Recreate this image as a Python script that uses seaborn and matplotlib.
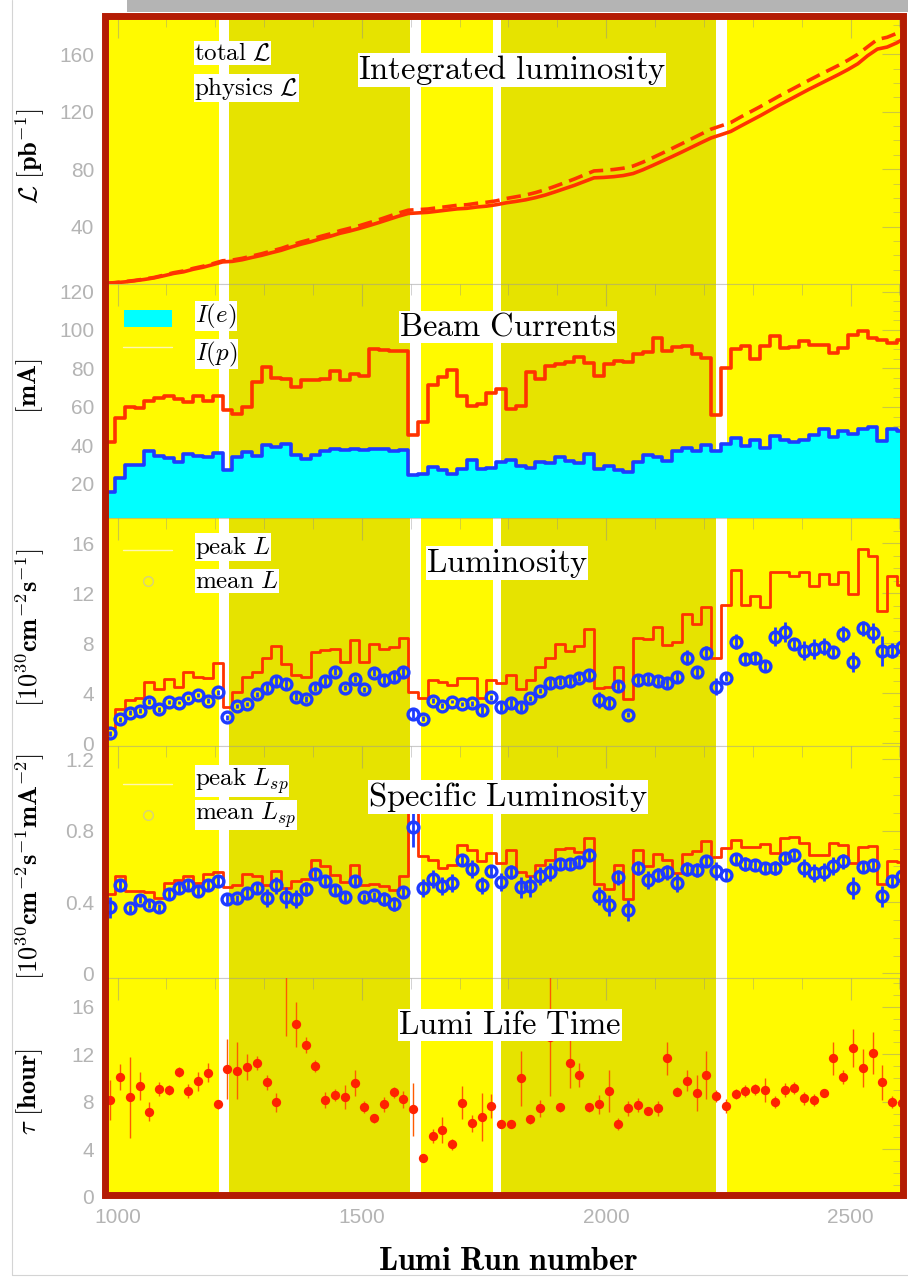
import numpy as np
import pandas as pd
import seaborn as sns
import matplotlib
matplotlib.use("Agg")
import matplotlib.pyplot as plt
from matplotlib.patches import Rectangle
from matplotlib.lines import Line2D
from matplotlib.ticker import MultipleLocator

# ---------------- data ----------------
run_edges = np.arange(975, 2616, 20)          # 82 bins of 20 runs
run_centers = run_edges[:-1] + 10

period_start = [975, 1228, 1621, 1785, 2247]
period_end = [1208, 1598, 1768, 2224, 2615]
period_dark = [False, True, False, True, False]

int_phys = [0.6, 1.0, 1.6, 2.4, 3.3, 4.4, 5.9, 7.5, 8.6, 10.4,
            11.8, 13.6, 15.5, 15.9, 17.0, 18.6, 20.1, 21.9, 23.6, 25.8,
            27.8, 29.5, 31.5, 33.3, 35.4, 37.0, 38.8, 40.8, 42.9, 45.1,
            47.3, 49.2, 49.6, 50.0, 50.8, 51.6, 52.4, 52.8, 53.7, 54.3,
            55.3, 56.6, 57.6, 58.7, 60.2, 62.0, 64.2, 66.5, 68.8, 71.4,
            74.0, 74.3, 74.8, 75.6, 77.0, 79.6, 82.6, 85.7, 88.8, 92.0,
            95.3, 98.6, 101.8, 104.0, 106.3, 110.0, 113.6, 117.2, 121.0, 124.8,
            128.4, 132.0, 135.6, 139.0, 142.4, 145.8, 149.4, 153.4, 159.0, 163.6,
            165.0, 168.0, 172.0]
int_total = [0.6, 1.1, 1.8, 2.6, 3.6, 4.7, 6.3, 8.0, 9.2, 11.0,
             12.5, 14.3, 16.3, 16.8, 18.0, 19.6, 21.2, 23.1, 24.9, 27.2,
             29.3, 31.1, 33.2, 35.0, 37.2, 38.9, 40.7, 42.8, 44.9, 47.2,
             49.5, 51.5, 51.9, 52.3, 53.2, 54.0, 54.9, 55.3, 56.3, 57.0,
             58.0, 59.6, 60.8, 62.0, 63.7, 65.7, 68.1, 70.6, 73.2, 76.0,
             78.8, 79.2, 79.8, 80.7, 82.2, 84.9, 88.0, 91.2, 94.5, 97.8,
             101.2, 104.6, 107.9, 110.2, 112.5, 116.3, 119.9, 123.5, 127.3, 131.1,
             134.7, 138.3, 141.9, 145.4, 148.8, 152.2, 155.9, 160.0, 165.2, 170.3,
             171.8, 174.6, 178.8]

I_e = [15.9, 23.1, 30.0, 30.0, 36.9, 34.7, 33.5, 31.2, 35.7, 34.7,
       34.0, 36.1, 27.4, 34.0, 36.6, 34.7, 40.1, 39.0, 40.9, 34.9,
       33.0, 35.2, 36.9, 38.3, 37.8, 38.1, 37.8, 38.1, 38.1, 36.9,
       37.5, 24.5, 25.3, 28.8, 27.4, 25.3, 27.8, 32.3, 27.9, 28.3,
       31.2, 32.6, 29.5, 28.3, 31.4, 30.7, 33.8, 32.1, 30.9, 35.6,
       27.8, 29.5, 27.4, 26.2, 31.4, 34.9, 34.0, 31.7, 37.3, 38.7,
       36.9, 40.4, 36.9, 40.9, 43.9, 39.5, 43.0, 38.7, 45.1, 42.6,
       41.8, 43.0, 45.6, 48.5, 44.4, 47.3, 45.9, 48.5, 49.4, 42.1,
       48.7, 47.3]
I_p = [41.6, 54.3, 60.0, 59.4, 62.9, 64.6, 65.5, 64.1, 62.6, 65.5,
       62.9, 65.9, 58.2, 56.5, 60.0, 72.8, 80.6, 75.0, 74.5, 70.2,
       74.2, 73.8, 74.5, 78.5, 73.8, 77.1, 76.2, 90.1, 89.4, 88.9,
       88.9, 45.6, 52.0, 71.6, 75.4, 79.0, 65.5, 60.7, 61.7, 67.2,
       69.3, 58.9, 60.7, 78.0, 74.5, 81.1, 82.3, 83.2, 85.9, 82.8,
       75.9, 82.5, 83.7, 83.4, 87.7, 88.4, 95.8, 88.9, 91.1, 91.5,
       87.5, 85.4, 56.0, 80.2, 90.3, 91.8, 84.9, 91.5, 97.0, 90.6,
       91.1, 94.1, 92.0, 92.0, 88.0, 90.6, 97.2, 99.3, 95.8, 94.6,
       93.2, 94.6]

peak_L = [1.27, 2.77, 3.49, 3.62, 4.90, 4.34, 5.17, 4.55, 5.70, 5.35,
          5.27, 6.42, 2.95, 4.10, 5.35, 5.70, 6.87, 7.81, 6.37, 5.49,
          5.35, 7.35, 7.49, 7.57, 6.55, 8.29, 6.55, 7.99, 7.57, 7.75,
          8.47, 4.15, 3.67, 5.09, 4.90, 4.69, 5.27, 5.22, 3.67, 5.09,
          4.82, 5.49, 4.34, 5.09, 6.10, 6.82, 7.94, 7.41, 7.81, 9.14,
          4.47, 4.55, 6.10, 3.57, 8.42, 8.34, 9.27, 7.89, 8.15, 10.34,
          9.57, 10.87, 6.87, 11.03, 13.89, 11.03, 11.75, 10.87, 13.67, 13.67,
          13.35, 13.70, 12.55, 13.57, 12.77, 13.70, 11.94, 15.54, 14.95, 10.55,
          13.35, 12.69]
mean_L = [0.80, 1.94, 2.47, 2.61, 3.35, 2.74, 3.30, 3.27, 3.62, 3.89,
          3.41, 4.10, 2.10, 3.01, 3.14, 3.94, 4.42, 5.03, 4.74, 3.75,
          3.57, 4.47, 5.01, 5.75, 4.47, 5.17, 4.34, 5.67, 5.09, 5.35,
          5.70, 2.37, 1.97, 3.41, 3.01, 3.35, 3.14, 3.22, 2.69, 3.70,
          2.90, 3.22, 2.90, 3.62, 4.23, 4.82, 4.95, 5.01, 5.27, 5.49,
          3.49, 3.27, 4.61, 2.29, 5.09, 5.17, 5.01, 4.87, 5.35, 6.87,
          5.70, 7.27, 4.55, 5.27, 8.15, 6.74, 6.82, 6.23, 8.55, 8.90,
          7.97, 7.43, 7.54, 7.75, 7.35, 8.77, 6.50, 9.22, 8.82, 7.43,
          7.43, 7.70]
mean_L_err = [0.2, 0.2, 0.2, 0.2, 0.2, 0.2, 0.15, 0.15, 0.15, 0.15,
              0.2, 0.2, 0.2, 0.15, 0.15, 0.2, 0.3, 0.4, 0.5, 0.3,
              0.25, 0.3, 0.3, 0.25, 0.2, 0.25, 0.2, 0.3, 0.4, 0.5,
              0.45, 0.35, 0.2, 0.2, 0.2, 0.15, 0.15, 0.2, 0.3, 0.2,
              0.3, 0.3, 0.3, 0.2, 0.2, 0.3, 0.3, 0.3, 0.3, 0.3,
              0.65, 0.5, 0.35, 0.2, 0.3, 0.3, 0.35, 0.4, 0.4, 0.6,
              0.4, 0.5, 0.65, 0.3, 0.6, 0.4, 0.4, 0.4, 0.75, 0.8,
              0.4, 0.75, 0.8, 0.65, 0.4, 0.65, 0.8, 0.6, 0.8, 1.2,
              0.6, 0.4]

peak_Lsp = [0.445, 0.548, 0.463, 0.460, 0.456, 0.422, 0.506, 0.525, 0.548, 0.506,
            0.557, 0.568, 0.482, 0.497, 0.557, 0.544, 0.497, 0.572, 0.478, 0.516,
            0.531, 0.634, 0.604, 0.549, 0.510, 0.609, 0.497, 0.503, 0.491, 0.469,
            0.544, 0.983, 0.656, 0.637, 0.591, 0.609, 0.722, 0.694, 0.628, 0.675,
            0.619, 0.694, 0.568, 0.548, 0.606, 0.634, 0.699, 0.703, 0.680, 0.759,
            0.501, 0.475, 0.606, 0.419, 0.694, 0.600, 0.671, 0.634, 0.563, 0.669,
            0.684, 0.740, 0.650, 0.703, 0.746, 0.707, 0.707, 0.725, 0.675, 0.759,
            0.763, 0.731, 0.662, 0.662, 0.731, 0.718, 0.619, 0.707, 0.712, 0.501,
            0.628, 0.624]
mean_Lsp = [0.370, 0.497, 0.366, 0.413, 0.385, 0.370, 0.445, 0.478, 0.493, 0.460,
            0.493, 0.520, 0.418, 0.422, 0.450, 0.478, 0.422, 0.493, 0.426, 0.418,
            0.475, 0.557, 0.520, 0.469, 0.426, 0.516, 0.426, 0.437, 0.418, 0.389,
            0.456, 0.819, 0.478, 0.529, 0.488, 0.506, 0.637, 0.587, 0.493, 0.576,
            0.512, 0.568, 0.482, 0.488, 0.544, 0.568, 0.613, 0.613, 0.624, 0.666,
            0.432, 0.381, 0.538, 0.353, 0.591, 0.525, 0.553, 0.566, 0.506, 0.587,
            0.581, 0.628, 0.572, 0.549, 0.641, 0.613, 0.609, 0.591, 0.591, 0.647,
            0.666, 0.591, 0.563, 0.568, 0.600, 0.628, 0.478, 0.596, 0.606, 0.432,
            0.520, 0.544]
mean_Lsp_err = [0.06, 0.03, 0.02, 0.02, 0.02, 0.02, 0.03, 0.03, 0.03, 0.03,
                0.03, 0.03, 0.03, 0.02, 0.03, 0.03, 0.05, 0.05, 0.06, 0.05,
                0.04, 0.03, 0.03, 0.03, 0.03, 0.03, 0.02, 0.02, 0.04, 0.04,
                0.03, 0.11, 0.05, 0.05, 0.05, 0.05, 0.03, 0.05, 0.05, 0.03,
                0.05, 0.04, 0.06, 0.06, 0.05, 0.05, 0.03, 0.03, 0.03, 0.03,
                0.05, 0.06, 0.04, 0.06, 0.04, 0.05, 0.04, 0.04, 0.05, 0.04,
                0.04, 0.03, 0.05, 0.03, 0.03, 0.04, 0.03, 0.03, 0.04, 0.03,
                0.03, 0.05, 0.05, 0.05, 0.05, 0.04, 0.06, 0.03, 0.03, 0.06,
                0.03, 0.03]

lifetime = [8.13, 10.10, 8.36, 9.32, 7.15, 9.04, 8.98, 10.52, 8.90, 9.74,
            10.44, 7.77, 10.75, 10.61, 10.89, 11.28, 9.62, 7.94, 20.0, 14.54,
            12.77, 11.03, 8.14, 8.56, 8.42, 9.54, 7.52, 6.59, 7.77, 8.78,
            8.19, 7.35, 3.28, 5.10, 5.61, 4.40, 7.91, 6.17, 6.73, 7.66,
            6.11, 6.11, 9.96, 6.51, 7.43, 13.47, 7.52, 11.23, 10.24, 7.52,
            7.77, 8.90, 6.09, 7.43, 7.71, 7.21, 7.43, 11.65, 8.84, 9.77,
            8.75, 10.24, 8.50, 7.66, 8.64, 8.92, 9.04, 8.98, 7.94, 8.98,
            9.18, 8.28, 8.14, 8.75, 11.65, 10.10, 12.55, 10.80, 12.10, 9.63,
            7.94, 7.86]
lifetime_err = [1.7, 1.1, 3.4, 1.2, 0.8, 0.6, 0.4, 0.4, 0.6, 0.8,
                0.8, 0.4, 2.5, 2.4, 1.1, 0.6, 0.6, 0.8, 6.5, 1.9,
                0.7, 0.5, 0.7, 0.5, 1.0, 1.1, 0.5, 0.4, 0.6, 0.5,
                0.7, 2.2, 0.35, 0.6, 1.1, 0.5, 1.4, 0.7, 2.0, 1.0,
                0.2, 0.2, 2.3, 0.35, 0.7, 5.0, 0.35, 2.1, 1.0, 0.35,
                0.8, 1.8, 0.5, 0.6, 0.6, 0.35, 0.6, 1.4, 0.4, 0.9,
                1.5, 2.0, 0.5, 0.6, 0.4, 0.5, 0.45, 1.0, 0.5, 0.6,
                0.5, 0.55, 0.5, 0.35, 1.4, 0.6, 1.6, 1.6, 1.8, 1.5,
                0.5, 0.5]

panel_titles = ["Integrated\\ luminosity", "Beam\\ Currents", "Luminosity",
                "Specific\\ Luminosity", "Lumi\\ Life\\ Time"]
y_labels = [r"$\mathcal{L}\ \mathbf{[pb^{-1}]}$", r"$\mathbf{[mA]}$",
            r"$\mathbf{[10^{30}cm^{-2}s^{-1}]}$",
            r"$\mathbf{[10^{30}cm^{-2}s^{-1}mA^{-2}]}$",
            r"$\tau\ \mathbf{[hour]}$"]
x_label = r"$\mathbf{Lumi\ Run\ number}$"

# ---------------- style ----------------
sns.set_theme(style="white")
plt.rcParams["font.family"] = ["Liberation Sans", "DejaVu Sans"]
plt.rcParams["mathtext.fontset"] = "cm"

RED = "#FF3300"
BLUE = "#1E3CFF"
CYAN = "#00FFFF"
YEL1 = "#FFFA00"
YEL2 = "#E6E300"
FRAME = "#B41C04"
TICKC = "#B4B4B4"

W, H = 908, 1278
fig = plt.figure(figsize=(W / 100, H / 100), dpi=100)
fig.patch.set_facecolor("white")


def fx(x):
    return x / W


def fy(y):
    return 1 - y / H


def ftext(x, y, s, **kw):
    return fig.text(fx(x), fy(y), s, **kw)


X0, X1 = 105.3, 904.3
panel_px = [(16, 284.2), (284.2, 518), (518, 746), (746, 978), (978, 1196.7)]
ylims = [(0, 186.6), (2.3, 123.8), (-0.2, 18.02), (-0.026, 1.275), (0, 18.42)]
ymajor = [40, 20, 4, 0.4, 4]
yticks_list = [[40, 80, 120, 160], [20, 40, 60, 80, 100, 120], [0, 4, 8, 12, 16],
               [0, 0.4, 0.8, 1.2], [0, 4, 8, 12, 16]]
ytick_text = [None, None, None, ["0", "0.4", "0.8", "1.2"], None]

axes = []
for i, (top, bot) in enumerate(panel_px):
    ax = fig.add_axes([fx(X0), fy(bot), fx(X1) - fx(X0), (bot - top) / H])
    ax.set_facecolor("white")
    for s, e, d in zip(period_start, period_end, period_dark):
        ax.axvspan(s, e, color=YEL2 if d else YEL1, lw=0, zorder=0)
    axes.append(ax)

ax1, ax2, ax3, ax4, ax5 = axes
bin_list = [float(v) for v in run_edges]
df_bins = pd.DataFrame({"run": run_centers, "Ie": I_e, "Ip": I_p, "peakL": peak_L,
                        "peakLsp": peak_Lsp})

# Panel 1: integrated luminosity
df_int = pd.DataFrame({"run": run_edges, "phys": int_phys, "total": int_total})
sns.lineplot(data=df_int, x="run", y="total", ax=ax1, color=RED, lw=2.6,
             linestyle=(0, (4, 2)), estimator=None, sort=False, zorder=3)
sns.lineplot(data=df_int, x="run", y="phys", ax=ax1, color=RED, lw=2.6,
             estimator=None, sort=False, zorder=4)

# Panel 2: beam currents
sns.histplot(data=df_bins, x="run", weights="Ie", bins=bin_list, element="step", fill=True,
             color=CYAN, alpha=1, edgecolor=BLUE, linewidth=2.6, ax=ax2, zorder=2)
sns.histplot(data=df_bins, x="run", weights="Ip", bins=bin_list, element="step", fill=False,
             color=RED, linewidth=2.6, ax=ax2, zorder=3)
ax2.vlines(run_edges[0], 0, I_p[0], color=RED, lw=2.6, zorder=3)

# Panel 3: luminosity
sns.histplot(data=df_bins, x="run", weights="peakL", bins=bin_list, element="step", fill=False,
             color=RED, linewidth=2.0, ax=ax3, zorder=3)
ax3.vlines(run_edges[0], -1, peak_L[0], color=RED, lw=2.0, zorder=3)
ax3.errorbar(run_centers, mean_L, yerr=mean_L_err, fmt="o", ms=7.8, mfc="none",
             mec=BLUE, mew=2.4, ecolor=BLUE, elinewidth=2.0, capsize=0, zorder=4)

# Panel 4: specific luminosity
sns.histplot(data=df_bins, x="run", weights="peakLsp", bins=bin_list, element="step", fill=False,
             color=RED, linewidth=2.0, ax=ax4, zorder=3)
ax4.vlines(run_edges[0], -1, peak_Lsp[0], color=RED, lw=2.0, zorder=3)
ax4.errorbar(run_centers, mean_Lsp, yerr=mean_Lsp_err, fmt="o", ms=7.8, mfc="none",
             mec=BLUE, mew=2.4, ecolor=BLUE, elinewidth=2.0, capsize=0, zorder=4)

# Panel 5: lumi life time
ax5.errorbar(run_centers, lifetime, yerr=lifetime_err, fmt="none", ecolor="#FF5A00",
             elinewidth=1.0, capsize=0, zorder=3)
sns.scatterplot(x=run_centers, y=lifetime, ax=ax5, color="#FF2200", s=45,
                edgecolor="#FF2200", linewidth=0, zorder=4)

for i, ax in enumerate(axes):
    ax.set_xlim(975, 2610)
    ax.set_ylim(*ylims[i])
    ax.set_xlabel("")
    ax.set_ylabel("")
    ax.set_yticks(yticks_list[i])
    if ytick_text[i] is not None:
        ax.set_yticklabels(ytick_text[i])
    ax.yaxis.set_minor_locator(MultipleLocator(ymajor[i] / 4))
    ax.xaxis.set_major_locator(MultipleLocator(500))
    ax.xaxis.set_minor_locator(MultipleLocator(100))
    ax.tick_params(axis="both", which="both", direction="in", top=True, right=True,
                   color=(0.55, 0.55, 0.55, 0.45), labelcolor=TICKC, labelsize=15)
    ax.tick_params(axis="both", which="major", length=16, width=0.8, pad=8)
    ax.tick_params(axis="both", which="minor", length=8, width=0.6)
    if i < 4:
        ax.tick_params(axis="x", labelbottom=False)
    for sp in ax.spines.values():
        sp.set_color((0.6, 0.6, 0.6, 0.5))
        sp.set_linewidth(0.8)
    if ax.get_legend() is not None:
        ax.get_legend().remove()

# titles
title_pos = [(512, 70), (508, 327), (507, 563), (508, 797), (510, 1025)]
for t, (x, y) in zip(panel_titles, title_pos):
    ftext(x, y, r"$\mathrm{" + t + "}$", fontsize=23.5, ha="center", va="center",
          color="black", zorder=20,
          bbox=dict(facecolor="white", edgecolor="none", pad=0.3))

# y labels
ylab_y = [156, 386, 628, 867, 1092]
for lab, y in zip(y_labels, ylab_y):
    ftext(30, y, lab, fontsize=19, rotation=90, ha="center", va="center", color="black")

ftext(508, 1262, x_label, fontsize=23, ha="center", va="center", color="black")

# legends
leg_kw = dict(fontsize=18, ha="left", va="center", color="black", zorder=20,
              bbox=dict(facecolor="white", edgecolor="none", pad=0.2))
ftext(194, 53, r"$\mathrm{total}\ \mathcal{L}$", **leg_kw)
ftext(194, 88, r"$\mathrm{physics}\ \mathcal{L}$", **leg_kw)
ftext(195, 316, r"$I(e)$", **leg_kw)
ftext(195, 354, r"$I(p)$", **leg_kw)
ftext(195, 547, r"$\mathrm{peak}\ L$", **leg_kw)
ftext(195, 581, r"$\mathrm{mean}\ L$", **leg_kw)
ftext(195, 781, r"$\mathrm{peak}\ L_{sp}$", **leg_kw)
ftext(195, 815, r"$\mathrm{mean}\ L_{sp}$", **leg_kw)

fig.add_artist(Rectangle((fx(124), fy(327)), fx(172) - fx(124), 17 / H,
                         transform=fig.transFigure, facecolor=CYAN, edgecolor="none", zorder=15))
for yy in (347, 550, 784):
    fig.add_artist(Line2D([fx(123), fx(172)], [fy(yy), fy(yy)], transform=fig.transFigure,
                          color="#FFF6B0", lw=1.0, zorder=15))
for yy in (581, 815):
    fig.add_artist(Line2D([fx(148)], [fy(yy)], transform=fig.transFigure, marker="o",
                          ms=7, mfc="none", mec="#D8D27A", mew=1.0, zorder=15))

# decorations: grey bar, canvas border, red frame
fig.add_artist(Rectangle((fx(127), fy(12)), fx(908) - fx(127), 12 / H,
                         transform=fig.transFigure, facecolor="#B4B4B4", edgecolor="none", zorder=30))
fig.add_artist(Line2D([fx(11.6), fx(11.6)], [fy(0), fy(1275)], transform=fig.transFigure,
                      color="#D4D4D4", lw=0.8, zorder=30))
fig.add_artist(Line2D([fx(11.6), fx(908)], [fy(1275), fy(1275)], transform=fig.transFigure,
                      color="#D4D4D4", lw=0.8, zorder=30))
fig.add_artist(Rectangle((fx(104.5), fy(1194.5)), fx(902.5) - fx(104.5), (1194.5 - 16) / H,
                         transform=fig.transFigure, fill=False, edgecolor=FRAME,
                         lw=5.0, joinstyle="miter", zorder=40))

fig.savefig("out.png", dpi=100)
